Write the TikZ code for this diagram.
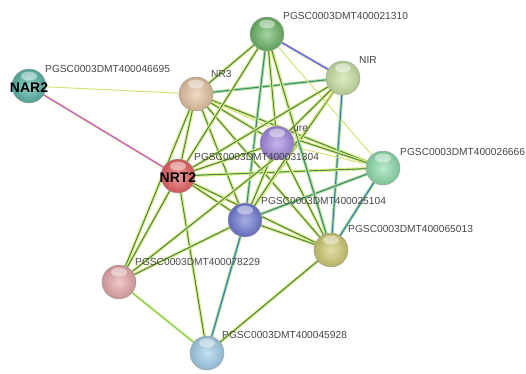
\documentclass[tikz,border=0pt]{standalone}
\usepackage{fontspec}
\setmainfont{Liberation Sans}
\usetikzlibrary{backgrounds}
\definecolor{tmY}{RGB}{225,235,130}
\definecolor{nbG}{RGB}{110,205,90}
\definecolor{coK}{RGB}{70,75,85}
\definecolor{dbC}{RGB}{120,210,235}
\definecolor{ooB}{RGB}{55,75,225}
\definecolor{hoL}{RGB}{180,170,242}
\definecolor{exM}{RGB}{205,90,215}
\definecolor{cNAR}{RGB}{85,180,165}
\definecolor{cNR}{RGB}{228,195,158}
\definecolor{cNRT}{RGB}{230,95,95}
\definecolor{cPur}{RGB}{160,135,222}
\definecolor{cGrn}{RGB}{105,180,100}
\definecolor{cNIR}{RGB}{200,225,160}
\definecolor{cMint}{RGB}{140,220,170}
\definecolor{cBlu}{RGB}{110,120,210}
\definecolor{cOli}{RGB}{205,200,110}
\definecolor{cPink}{RGB}{228,165,165}
\definecolor{cLBl}{RGB}{160,205,232}
\begin{document}
\begin{tikzpicture}[x=1pt,y=-1pt,
  ballnode/.style={circle, minimum size=34pt, inner sep=0pt, draw=black!35, line width=0.5pt,
     inner color=#1!60!white, outer color=#1!88!black,
     path picture={\fill[white,opacity=0.45] ([yshift=10pt]path picture bounding box.center) ellipse (8pt and 4.5pt);}},
  lbl/.style={anchor=west, inner sep=0pt, font=\fontsize{10.2}{12}\selectfont, text=black!72},
  big/.style={font=\fontsize{14}{16}\bfseries\selectfont, text=black, inner sep=0pt},
  eA/.style={draw=coK, line width=0.4pt, preaction={draw=nbG, line width=1.2pt, preaction={draw=tmY, line width=3.2pt}}},
  eB/.style={draw=coK, line width=0.4pt, preaction={draw=nbG, line width=1.1pt, preaction={draw=dbC, line width=2.2pt, preaction={draw=tmY, line width=3.3pt}}}},
  eC/.style={draw=ooB, line width=0.55pt, preaction={draw=nbG, line width=1.3pt, preaction={draw=dbC, line width=2.3pt, preaction={draw=tmY, line width=3.3pt}}}},
  eD/.style={draw=ooB, line width=0.7pt, preaction={draw=hoL, line width=2pt, preaction={draw=tmY, line width=3pt}}},
  eT/.style={draw=tmY!90!olive, line width=1pt},
  eG/.style={draw=nbG, line width=0.9pt, preaction={draw=tmY, line width=2.4pt}},
  eX/.style={draw=exM, line width=1.3pt, preaction={draw=tmY, line width=2.3pt}}
]
\useasboundingbox (0,0) rectangle (526,373);
% nodes
\node[ballnode=cNAR] (NAR2) at (29,86) {};
\node[ballnode=cNR] (NR3) at (196,94) {};
\node[ballnode=cNRT] (NRT2) at (178,176) {};
\node[ballnode=cPur] (P031304) at (277,143) {};
\coordinate (ure) at (298,140);
\node[ballnode=cGrn] (P021310) at (267,34) {};
\node[ballnode=cNIR] (NIR) at (343,78) {};
\node[ballnode=cMint] (P026666) at (383,168) {};
\node[ballnode=cBlu] (P025104) at (245,220) {};
\node[ballnode=cOli] (P065013) at (331,250) {};
\node[ballnode=cPink] (P078229) at (119,282) {};
\node[ballnode=cLBl] (P045928) at (207,353) {};
% edges
\begin{scope}[on background layer]
\draw[eT] (NAR2.center) -- (NR3.center);
\draw[eX] (NAR2.center) -- (NRT2.center);
\draw[eA] (NR3.center) -- (P021310.center);
\draw[eB] (NR3.center) -- (NIR.center);
\draw[eA] (NR3.center) -- (NRT2.center);
\draw[eA] (NR3.center) -- (P031304.center);
\draw[eA] (NR3.center) -- (P026666.center);
\draw[eA] (NR3.center) -- (P025104.center);
\draw[eA] (NR3.center) -- (P065013.center);
\draw[eA] (NR3.center) -- (P078229.center);
\draw[eT] (NR3.center) -- (ure);
\draw[eD] (P021310.center) -- (NIR.center);
\draw[eA] (P021310.center) -- (NRT2.center);
\draw[eA] (P021310.center) -- (P031304.center);
\draw[eB] (P021310.center) -- (P025104.center);
\draw[eC] (P021310.center) -- (P065013.center);
\draw[eT] (P021310.center) -- (P026666.center);
\draw[eA] (P021310.center) -- (ure);
\draw[eA] (NIR.center) -- (NRT2.center);
\draw[eA] (NIR.center) -- (P031304.center);
\draw[eA] (NIR.center) -- (P025104.center);
\draw[eC] (NIR.center) -- (P065013.center);
\draw[eT] (NIR.center) -- (ure);
\draw[eA] (NRT2.center) -- (P031304.center);
\draw[eA] (NRT2.center) -- (P026666.center);
\draw[eA] (NRT2.center) -- (P025104.center);
\draw[eA] (NRT2.center) -- (P065013.center);
\draw[eA] (NRT2.center) -- (P078229.center);
\draw[eA] (NRT2.center) -- (P045928.center);
\draw[eA] (P031304.center) -- (P025104.center);
\draw[eA] (P031304.center) -- (P065013.center);
\draw[eT] (P031304.center) -- (P026666.center);
\draw[eB] (P025104.center) -- (P026666.center);
\draw[eA] (P025104.center) -- (P065013.center);
\draw[eA] (P025104.center) -- (P078229.center);
\draw[eC] (P025104.center) -- (P045928.center);
\draw[eC] (P026666.center) -- (P065013.center);
\draw[eA] (P065013.center) -- (P045928.center);
\draw[eG] (P078229.center) -- (P045928.center);
\draw[eA] (P078229.center) -- (ure);
\draw[eA] (ure) -- (P026666.center);
\draw[eA] (ure) -- (P025104.center);
\draw[eB] (ure) -- (P065013.center);
\end{scope}
% labels
\node[big] (tNAR2) at (29,88) {NAR2};
\node[big] (tNRT2) at (178,178) {NRT2};
\node[lbl] (l046695) at (45,69) {PGSC0003DMT400046695};
\node[lbl] (lNR3) at (211,74) {NR3};
\node[lbl] (l031304) at (194,157) {PGSC0003DMT400031304};
\node[lbl] (lure) at (293,129) {ure};
\node[lbl] (l021310) at (283,16) {PGSC0003DMT400021310};
\node[lbl] (lNIR) at (359,60) {NIR};
\node[lbl] (l026666) at (400,152) {PGSC0003DMT400026666};
\node[lbl] (l025104) at (261,201) {PGSC0003DMT400025104};
\node[lbl] (l065013) at (348,229) {PGSC0003DMT400065013};
\node[lbl] (l078229) at (135,262) {PGSC0003DMT400078229};
\node[lbl] (l045928) at (222,335) {PGSC0003DMT400045928};
\end{tikzpicture}
\end{document}
